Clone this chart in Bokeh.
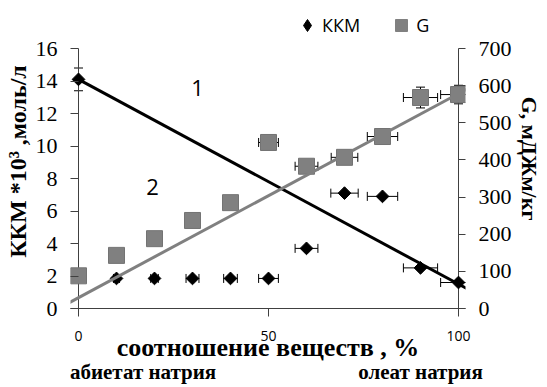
import math

from bokeh.embed import file_html
from bokeh.resources import INLINE
from bokeh.plotting import figure
from bokeh.models import (ColumnDataSource, Range1d, LinearAxis, FixedTicker,
                          Label, Whisker, TeeHead, Legend, LegendItem)

# --- data -------------------------------------------------------------------
ratio_pct = [0, 10, 20, 30, 40, 50, 60, 70, 80, 90, 100]          # oleate share, %
kkm_vals = [14.1, 1.85, 1.85, 1.85, 1.85, 1.85, 3.7, 7.1, 6.9, 2.5, 1.6]   # CMC *10^3, mol/l
kkm_xerr = [0, 0.8, 1.0, 1.7, 1.8, 2.6, 3.0, 3.6, 4.0, 4.5, 4.7]
kkm_yerr = [0.7, 0, 0, 0, 0, 0, 0, 0, 0, 0, 0]
g_vals = [88, 143, 188, 237, 285, 447, 383, 407, 463, 568, 576]    # G, mJ/m/kg
g_xerr = [0, 0, 0, 0, 0, 2.6, 3.0, 3.5, 4.0, 4.5, 4.7]
g_yerr = [0, 0, 0, 0, 0, 12, 8, 8, 20, 28, 25]

# trend lines (end points)
kkm_trend_x = [0, 102.4]
kkm_trend_y = [14.1, 1.2]
g_trend_x = [-2.4, 103]
g_trend_y = [16, 595]

kkm_ticks = [0, 2, 4, 6, 8, 10, 12, 14, 16]
g_ticks = [0, 100, 200, 300, 400, 500, 600, 700]
x_ticks = [0, 50, 100]
# names of the two pure components, placed under their ends of the scale
end_names = {17: "абиетат натрия", 90: "олеат натрия"}

SERIF = "Liberation Serif"
SANS = "Open Sans"
GREY = "#808080"
AXIS = "#404040"

# scale extents; the area above 16 (700) holds the legend
KKM_MAX, G_MAX = 16, 700
HEADROOM = 40 / 16.25           # px above the top tick / px per КММ unit
kkm_top = KKM_MAX + HEADROOM
g_top = G_MAX * kkm_top / KKM_MAX

# --- figure -----------------------------------------------------------------
p = figure(width=547, height=387, output_backend="svg", toolbar_location=None,
           x_range=Range1d(-8 / 3.8, 100 + 7 / 3.8), y_range=Range1d(0, kkm_top),
           min_border_left=70, min_border_right=82, min_border_top=8,
           min_border_bottom=79, background_fill_color="white",
           border_fill_color="white", outline_line_color=None)
p.extra_y_ranges = {"g": Range1d(0, g_top)}
p.xgrid.visible = False
p.ygrid.visible = False
p.xaxis.visible = False
p.yaxis.visible = False

# bottom axis with its title
xax = LinearAxis(ticker=FixedTicker(ticks=x_ticks),
                 axis_label="соотношение веществ , %")
xax.axis_line_color = AXIS
xax.major_tick_line_color = AXIS
xax.major_tick_in = 0
xax.major_tick_out = 8
xax.minor_tick_line_color = None
xax.major_label_standoff = 14
xax.major_label_text_font = SANS
xax.major_label_text_font_size = "14px"
xax.major_label_text_color = "black"
xax.axis_label_text_font = SERIF
xax.axis_label_text_font_style = "bold"
xax.axis_label_text_font_size = "26px"
xax.axis_label_text_color = "black"
xax.axis_label_standoff = -11
p.add_layout(xax, "below")

# second row under the axis: component names
nax = LinearAxis(ticker=FixedTicker(ticks=list(end_names.keys())),
                 major_label_overrides=end_names)
nax.axis_line_color = None
nax.major_tick_line_color = None
nax.minor_tick_line_color = None
nax.major_tick_in = 0
nax.major_tick_out = 0
nax.major_label_standoff = -5
nax.major_label_text_font = SERIF
nax.major_label_text_font_style = "bold"
nax.major_label_text_font_size = "21px"
nax.major_label_text_color = "black"
p.add_layout(nax, "below")

# left axis: ККМ
lax = LinearAxis(ticker=FixedTicker(ticks=kkm_ticks),
                 axis_label="ККМ  *10³ ,моль/л")
lax.axis_line_color = None
lax.major_tick_line_color = AXIS
lax.major_tick_in = 8
lax.major_tick_out = 0
lax.minor_tick_line_color = None
lax.major_label_standoff = 13
lax.major_label_text_font = SERIF
lax.major_label_text_font_size = "22px"
lax.major_label_text_color = "black"
lax.axis_label_text_font = SERIF
lax.axis_label_text_font_style = "bold"
lax.axis_label_text_font_size = "24px"
lax.axis_label_text_color = "black"
lax.axis_label_standoff = 2
p.add_layout(lax, "left")

# right axis: G
rax = LinearAxis(y_range_name="g", ticker=FixedTicker(ticks=g_ticks),
                 axis_label="G, мДЖм/кг")
rax.axis_line_color = None
rax.major_tick_line_color = AXIS
rax.major_tick_in = 7
rax.major_tick_out = 0
rax.minor_tick_line_color = None
rax.major_label_standoff = 13
rax.major_label_text_font = SERIF
rax.major_label_text_font_size = "22px"
rax.major_label_text_color = "black"
rax.axis_label_text_font = SERIF
rax.axis_label_text_font_style = "bold"
rax.axis_label_text_font_size = "22px"
rax.axis_label_text_color = "black"
rax.axis_label_standoff = 2
p.add_layout(rax, "right")

# vertical axis lines at 0 % and 100 %, from 0 up to the top tick
p.segment(x0=[0, 100], y0=[0, 0], x1=[0, 100], y1=[KKM_MAX, KKM_MAX],
          line_color=AXIS, line_width=1)

# --- error bars -------------------------------------------------------------
def hbar_source(xs, ys, errs):
    rows = [(x, y, e) for x, y, e in zip(xs, ys, errs) if e > 0]
    return ColumnDataSource(dict(y=[r[1] for r in rows],
                                 lo=[r[0] - r[2] for r in rows],
                                 hi=[r[0] + r[2] for r in rows]))

def vbar_source(xs, ys, errs):
    rows = [(x, y, e) for x, y, e in zip(xs, ys, errs) if e > 0]
    return ColumnDataSource(dict(x=[r[0] for r in rows],
                                 lo=[r[1] - r[2] for r in rows],
                                 hi=[r[1] + r[2] for r in rows]))

def cap():
    return TeeHead(size=9, line_width=1, line_color="black")

p.add_layout(Whisker(source=hbar_source(ratio_pct, kkm_vals, kkm_xerr), base="y",
                     lower="lo", upper="hi", dimension="width",
                     line_color="black", line_width=1,
                     lower_head=cap(), upper_head=cap()))
p.add_layout(Whisker(source=vbar_source(ratio_pct, kkm_vals, kkm_yerr), base="x",
                     lower="lo", upper="hi", dimension="height",
                     line_color="black", line_width=1,
                     lower_head=cap(), upper_head=cap()))
p.add_layout(Whisker(source=hbar_source(ratio_pct, g_vals, g_xerr), base="y",
                     lower="lo", upper="hi", dimension="width", y_range_name="g",
                     line_color="black", line_width=1,
                     lower_head=cap(), upper_head=cap()))
p.add_layout(Whisker(source=vbar_source(ratio_pct, g_vals, g_yerr), base="x",
                     lower="lo", upper="hi", dimension="height", y_range_name="g",
                     line_color="black", line_width=1,
                     lower_head=cap(), upper_head=cap()))

# --- markers ----------------------------------------------------------------
src = ColumnDataSource(dict(x=ratio_pct, kkm=kkm_vals, g=g_vals))
p.scatter("x", "g", source=src, y_range_name="g", marker="square", size=16,
          fill_color=GREY, line_color="#737373", line_width=1)
p.scatter("x", "kkm", source=src, marker="square", angle=math.pi / 4, size=9,
          fill_color="black", line_color="black")

# --- trend lines ------------------------------------------------------------
p.line(kkm_trend_x, kkm_trend_y, line_color="black", line_width=3)
p.line(g_trend_x, g_trend_y, y_range_name="g", line_color=GREY, line_width=3)

# --- legend: sample glyphs with no plotted position ------------------------
nan_pt = ColumnDataSource(dict(x=[float("nan")], y=[float("nan")]))
leg_kkm = p.scatter("x", "y", source=nan_pt, marker="diamond",
                    fill_color="black", line_color="black")
leg_g = p.scatter("x", "y", source=nan_pt, marker="square",
                  fill_color=GREY, line_color=GREY)
legend = Legend(items=[LegendItem(label="ККМ", renderers=[leg_kkm]),
                       LegendItem(label="G", renderers=[leg_g])],
                orientation="horizontal", location=(222, 268),
                glyph_width=30, glyph_height=30, label_standoff=0, spacing=26,
                padding=0, margin=0, background_fill_alpha=0,
                border_line_color=None, label_text_font=SANS,
                label_text_font_size="18px", label_text_color="black")
p.add_layout(legend, "center")

# --- curve numbers ----------------------------------------------------------
p.add_layout(Label(x=31.3, y=13.6, text="1", text_align="center",
                   text_baseline="middle", text_font=SANS,
                   text_font_size="22px", text_color="black"))
p.add_layout(Label(x=19.5, y=7.45, text="2", text_align="center",
                   text_baseline="middle", text_font=SANS,
                   text_font_size="22px", text_color="black"))

open("out.html", "w").write(file_html(p, INLINE))
